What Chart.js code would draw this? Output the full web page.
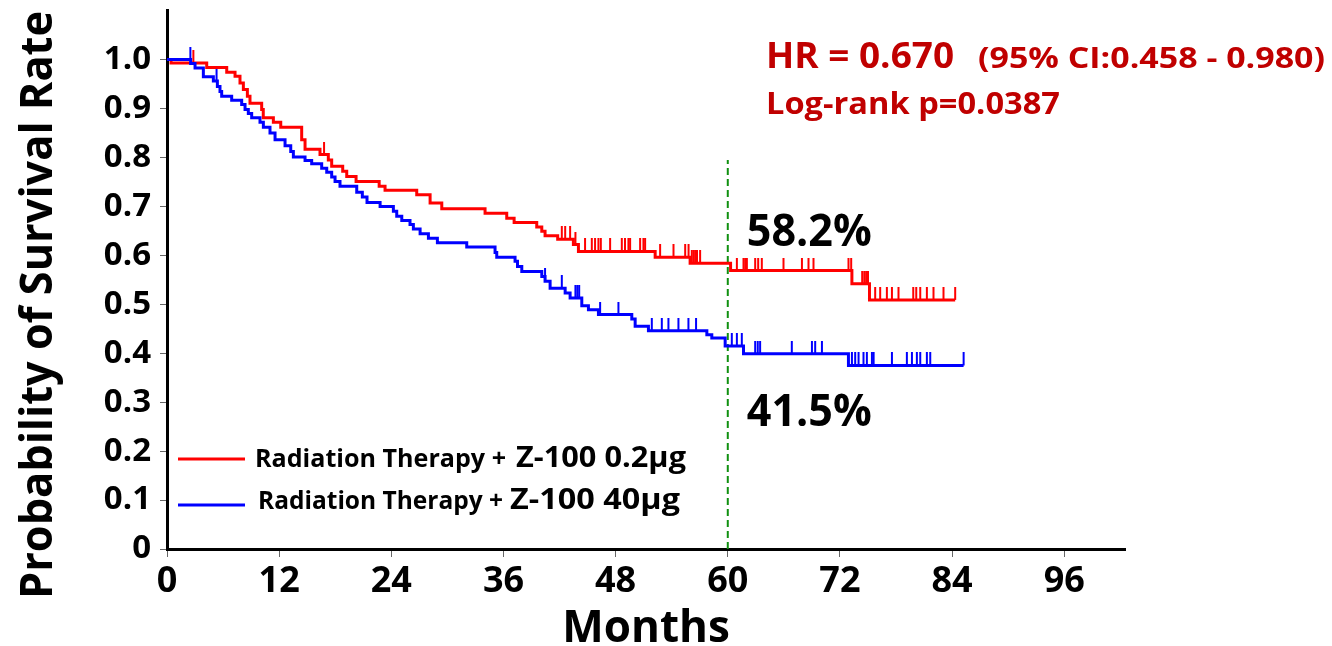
<!DOCTYPE html>
<html><head><meta charset="utf-8">
<script src="https://cdn.jsdelivr.net/npm/chart.js@4.4.1/dist/chart.umd.min.js"></script>
<style>html,body{margin:0;padding:0;background:#fff;overflow:hidden}#wrap{width:1332px;height:646px;position:relative}</style>
</head><body><div id="wrap"><canvas id="c" width="1332" height="646"></canvas></div>
<script>
// ---- data ----
const redTime = [0,0.43,4.25,6.39,7.28,7.81,8.17,8.6,8.88,10.13,10.3,11.38,12.17,14.41,14.77,16.37,17.26,17.62,18.8,19.23,20.23,22.7,23.33,26.72,28.15,29.4,34.03,36.35,37.14,39.56,40.1,40.45,41.8,43.48,44.02,52.23,55.97,60.3,73.28,75.16,84.33];
const redSurv = [1.0,0.993,0.984,0.974,0.966,0.952,0.939,0.925,0.911,0.898,0.881,0.872,0.862,0.836,0.817,0.806,0.795,0.782,0.772,0.761,0.751,0.741,0.733,0.724,0.707,0.695,0.686,0.676,0.667,0.658,0.649,0.640,0.633,0.622,0.608,0.596,0.584,0.569,0.542,0.509,0.509];
const redCensor = [2.82,16.8,42.24,42.6,43.13,43.7,44.73,45.45,45.8,46.16,46.41,47.41,48.66,49.0,49.37,49.55,50.62,50.97,51.15,52.76,54.19,55.44,55.8,56.15,56.33,56.5,56.7,57.04,60.97,61.68,61.86,62.04,62.93,63.25,63.64,65.96,67.93,68.63,69.17,72.91,73.2,74.38,74.6,74.8,75.0,75.77,76.3,77.02,77.56,78.26,79.84,80.16,80.59,81.3,82.01,83.08,84.33];

const blueTime = [0,2.53,3.0,3.89,4.96,5.39,5.67,5.85,6.92,7.99,8.35,8.7,9.06,9.95,10.31,11.02,11.56,12.63,13.24,13.52,14.77,15.48,16.55,17.09,17.62,17.98,18.51,20.3,20.9,21.4,22.8,24.22,24.58,25.12,26.0,26.36,27.08,27.97,28.93,32.07,35.1,35.28,37.24,37.5,37.96,40.1,40.45,40.99,42.6,43.13,44.38,45.09,46.16,49.73,50.09,51.51,57.76,58.29,59.72,61.68,72.91,85.23];
const blueSurv = [1.0,0.992,0.983,0.965,0.956,0.945,0.935,0.925,0.917,0.908,0.898,0.890,0.881,0.872,0.862,0.850,0.836,0.824,0.812,0.801,0.794,0.787,0.778,0.770,0.760,0.751,0.741,0.729,0.719,0.708,0.700,0.690,0.680,0.671,0.663,0.654,0.644,0.635,0.626,0.617,0.606,0.596,0.588,0.577,0.567,0.557,0.547,0.533,0.523,0.513,0.497,0.489,0.479,0.470,0.455,0.446,0.438,0.431,0.415,0.399,0.375,0.375];
const blueCensor = [2.5,5.3,40.45,42.24,43.7,43.9,44.1,46.34,48.3,51.87,52.94,53.65,54.72,55.79,56.6,60.43,60.97,61.5,62.93,63.2,63.46,66.85,69.0,69.35,70.07,73.28,73.63,73.99,74.52,74.88,75.42,75.6,77.56,79.16,79.7,80.23,80.59,81.3,81.66,85.23];

const xTicks = [0,12,24,36,48,60,72,84,96];
const yTicks = [0,0.1,0.2,0.3,0.4,0.5,0.6,0.7,0.8,0.9,1.0];
const yTickLabels = ['0','0.1','0.2','0.3','0.4','0.5','0.6','0.7','0.8','0.9','1.0'];
const landmarkX = [60,60];
const landmarkY = [0,0.795];
const seriesNames = ['Radiation Therapy + Z-100 0.2μg','Radiation Therapy + Z-100 40μg'];
const landmarkValues = ['58.2%','41.5%'];
const statTexts = ['HR = 0.670','(95% CI:0.458 - 0.980)','Log-rank p=0.0387'];
const xTitle = 'Months';
const yTitle = 'Probability of Survival Rate';

// ---- helpers ----
const pts = (xs, ys) => xs.map((x,i)=>({x:x, y:ys[i]}));
function levelAt(times, vals, t){ let v = vals[0]; for (let i=0;i<times.length;i++){ if (times[i] <= t) v = vals[i]; } return v; }
const censorPts = (cs, times, vals) => cs.map(t=>({x:t, y:levelAt(times, vals, t)}));
function tickImg(color){
  const c = document.createElement('canvas'); c.width = 4; c.height = 26;
  const g = c.getContext('2d'); g.strokeStyle = color; g.lineWidth = 2;
  g.beginPath(); g.moveTo(2,0); g.lineTo(2,13); g.stroke(); return c;
}
const RED = '#ff0000', BLUE = '#0000ff', DARKRED = '#c00000';
const F = 'Open Sans';

function fitText(ctx, text, x, y, size, width, color, align){
  ctx.save();
  ctx.font = 'bold ' + size + 'px "' + F + '"';
  ctx.fillStyle = color; ctx.textBaseline = 'alphabetic'; ctx.textAlign = align || 'left';
  const w = ctx.measureText(text).width;
  const sx = width ? width / w : 1;
  ctx.translate(x, y); ctx.scale(sx, 1); ctx.fillText(text, 0, 0);
  ctx.restore();
}

const textPlugin = {
  id: 'texts',
  afterDraw(chart){
    const ctx = chart.ctx;
    const xs = chart.scales.x;
    // y-axis title
    ctx.save();
    ctx.translate(52, 305); ctx.rotate(-Math.PI/2);
    fitText(ctx, yTitle, 0, 0, 45, 588, '#000', 'center');
    ctx.restore();
    // stats
    fitText(ctx, statTexts[0], 766, 68, 35, 188, DARKRED);
    fitText(ctx, statTexts[1], 978, 68, 29, 347, DARKRED);
    fitText(ctx, statTexts[2], 766, 114, 30, 294, DARKRED);
    // landmark percentages
    const lx = xs.getPixelForValue(60) + 19;
    fitText(ctx, landmarkValues[0], lx, 246, 45, 125, '#000');
    fitText(ctx, landmarkValues[1], lx, 426, 45, 125, '#000');
    // legend
    const legend = [
      {c: RED, ly: 459, tx: 255, ty: 467, w1: 251, zx: 516, w2: 170},
      {c: BLUE, ly: 505, tx: 258, ty: 509, w1: 245, zx: 510, w2: 170}
    ];
    legend.forEach((L, i) => {
      ctx.save(); ctx.strokeStyle = L.c; ctx.lineWidth = 3;
      ctx.beginPath(); ctx.moveTo(178, L.ly); ctx.lineTo(245, L.ly); ctx.stroke(); ctx.restore();
      const name = seriesNames[i];
      const cut = name.indexOf('Z-');
      fitText(ctx, name.slice(0, cut).trim(), L.tx, L.ty, 25, L.w1, '#000');
      fitText(ctx, name.slice(cut), L.zx, L.ty, 28, L.w2, '#000');
    });
  }
};

new Chart(document.getElementById('c'), {
  type: 'line',
  data: {
    datasets: [
      { label: seriesNames[1], data: pts(blueTime, blueSurv), borderColor: BLUE, borderWidth: 3, stepped: 'before', pointRadius: 0, fill: false },
      { label: seriesNames[0], data: pts(redTime, redSurv), borderColor: RED, borderWidth: 3, stepped: 'before', pointRadius: 0, fill: false },
      { label: 'censor-blue', data: censorPts(blueCensor, blueTime, blueSurv), showLine: false, pointStyle: tickImg(BLUE), pointRadius: 3 },
      { label: 'censor-red', data: censorPts(redCensor, redTime, redSurv), showLine: false, pointStyle: tickImg(RED), pointRadius: 3 },
      { label: 'landmark', data: pts(landmarkX, landmarkY), borderColor: '#109010', borderWidth: 2, borderDash: [7,4], pointRadius: 0, fill: false }
    ]
  },
  options: {
    responsive: false, animation: false,
    layout: { padding: { left: 0, top: 0, right: 207, bottom: 0 } },
    plugins: { legend: { display: false }, tooltip: { enabled: false } },
    scales: {
      x: {
        type: 'linear', min: 0, max: 102.5,
        afterBuildTicks: s => { s.ticks = xTicks.map(v => ({value: v})); },
        afterFit: s => { s.height = 97; },
        ticks: { autoSkip: false, maxRotation: 0, padding: 3, color: '#000', font: { family: F, weight: 'bold', size: 36 }, callback: v => String(v) },
        grid: { drawOnChartArea: false, drawTicks: true, tickLength: 8, color: '#666', lineWidth: 1 },
        border: { display: true, color: '#000', width: 3 },
        title: { display: true, text: xTitle, color: '#000', font: { family: F, weight: 'bold', size: 44, lineHeight: 0.75 }, padding: { top: 0, bottom: 0 } }
      },
      y: {
        type: 'linear', min: 0, max: 1.1,
        afterBuildTicks: s => { s.ticks = yTicks.map(v => ({value: v})); },
        afterFit: s => { s.width = 167; },
        ticks: { autoSkip: false, padding: 9, color: '#000', font: { family: F, weight: 'bold', size: 33, lineHeight: 0.1 }, callback: (v, i) => yTickLabels[i] },
        grid: { drawOnChartArea: false, drawTicks: true, tickLength: 7, color: '#666', lineWidth: 1 },
        border: { display: true, color: '#000', width: 3 }
      }
    }
  },
  plugins: [textPlugin]
});
</script>
</body></html>
